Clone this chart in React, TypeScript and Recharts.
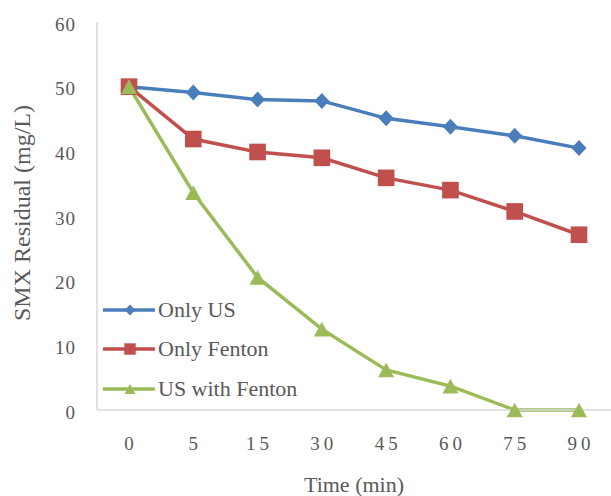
import React from 'react';
import { LineChart, Line, XAxis, YAxis, Legend } from 'recharts';

// Sampling times (min)
const times = ['0', '5', '15', '30', '45', '60', '75', '90'];
// SMX residual concentration (mg/L) per treatment
const onlyUS = [50, 49.1, 48.0, 47.8, 45.1, 43.8, 42.4, 40.5];
const onlyFenton = [50, 41.9, 39.9, 39.0, 35.9, 34.0, 30.7, 27.1];
const usWithFenton = [50, 33.6, 20.5, 12.5, 6.2, 3.7, 0, 0];
const yTicks = [0, 10, 20, 30, 40, 50, 60];

const data = times.map((t, i) => ({
  time: t,
  onlyUS: onlyUS[i],
  onlyFenton: onlyFenton[i],
  usWithFenton: usWithFenton[i],
}));

const FONT = '"Liberation Serif", "Times New Roman", serif';
const TEXT = '#595959';
const AXIS = '#D9D9D9';

const CHART_W = 611;
const CHART_H = 496;
const TOP = 22;
const X_AXIS_H = 86;
const PLOT_H = CHART_H - TOP - X_AXIS_H;

type Shape = 'diamond' | 'square' | 'triangle';

const series: { key: string; name: string; color: string; shape: Shape }[] = [
  { key: 'onlyUS', name: 'Only US', color: '#4A7EBB', shape: 'diamond' },
  { key: 'onlyFenton', name: 'Only Fenton', color: '#C0504D', shape: 'square' },
  { key: 'usWithFenton', name: 'US with Fenton', color: '#9BBB59', shape: 'triangle' },
];

function Marker({ cx, cy, shape, color, s }: { cx: number; cy: number; shape: Shape; color: string; s: number }) {
  if (shape === 'diamond') {
    const w = s * 0.47;
    const h = s * 0.5;
    return <polygon points={`${cx},${cy - h} ${cx + w},${cy} ${cx},${cy + h} ${cx - w},${cy}`} fill={color} />;
  }
  if (shape === 'square') {
    const h = s * 0.52;
    return <rect x={cx - h} y={cy - h} width={h * 2} height={h * 2} fill={color} />;
  }
  const w = s * 0.5;
  const h = s * 0.46;
  return <polygon points={`${cx},${cy - h} ${cx + w},${cy + h} ${cx - w},${cy + h}`} fill={color} />;
}

const XTick = (props: any) => {
  const { x, y, payload } = props;
  return (
    <text x={x + 2} y={y + 34} textAnchor="middle" fontFamily={FONT} fontSize={19} fill={TEXT} letterSpacing={4}>
      {payload.value}
    </text>
  );
};

const YTick = (props: any) => {
  const { x, y, payload } = props;
  return (
    <text x={x + 1} y={y + 8.5} textAnchor="end" fontFamily={FONT} fontSize={19} fill={TEXT} letterSpacing={1}>
      {payload.value}
    </text>
  );
};

const YTitle = () => {
  const cx = 22;
  const cy = TOP + PLOT_H / 2 - 3;
  return (
    <text
      x={cx}
      y={cy}
      transform={`rotate(-90, ${cx}, ${cy})`}
      textAnchor="middle"
      dominantBaseline="central"
      fontFamily={FONT}
      fontSize={24}
      fill={TEXT}
    >
      SMX Residual (mg/L)
    </text>
  );
};

const LegendContent = () => (
  <div style={{ fontFamily: FONT, fontSize: 22, color: TEXT }}>
    {series.map((s) => (
      <div key={s.key} style={{ display: 'flex', alignItems: 'center', height: 39.5 }}>
        <svg width={52} height={20} style={{ display: 'block' }}>
          <line x1={0} y1={10} x2={52} y2={10} stroke={s.color} strokeWidth={3.5} />
          <Marker cx={27} cy={10} shape={s.shape} color={s.color} s={11} />
        </svg>
        <span style={{ marginLeft: 3, whiteSpace: 'nowrap', lineHeight: '22px' }}>{s.name}</span>
      </div>
    ))}
  </div>
);

export default function App() {
  return (
    <div style={{ position: 'absolute', left: 0, top: 0 }}>
      <LineChart width={CHART_W} height={CHART_H} data={data} margin={{ top: TOP, right: 0, bottom: 0, left: 0 }}>
        <XAxis
          dataKey="time"
          height={X_AXIS_H}
          padding={{ left: 32, right: 32 }}
          tickLine={false}
          tickMargin={0}
          axisLine={{ stroke: AXIS, strokeWidth: 1.5 }}
          tick={<XTick />}
          interval={0}
          label={{
            value: 'Time (min)',
            position: 'insideBottom',
            offset: 4,
            fontFamily: FONT,
            fontSize: 22,
            fill: TEXT,
          }}
        />
        <YAxis
          width={97}
          domain={[0, 60]}
          ticks={yTicks}
          interval={0}
          tickLine={false}
          tickMargin={16}
          axisLine={{ stroke: AXIS, strokeWidth: 1.5 }}
          tick={<YTick />}
          label={{ content: () => <YTitle /> }}
        />
        <Legend
          layout="vertical"
          align="center"
          verticalAlign="middle"
          wrapperStyle={{ left: 103, top: 290, width: 220 }}
          content={<LegendContent />}
        />
        {series.map((s) => (
          <Line
            key={s.key}
            type="linear"
            dataKey={s.key}
            name={s.name}
            stroke={s.color}
            strokeWidth={3.5}
            isAnimationActive={false}
            dot={(p: any) => (
              <Marker key={`${s.key}-${p.index}`} cx={p.cx} cy={p.cy} shape={s.shape} color={s.color} s={16} />
            )}
            activeDot={false}
          />
        ))}
      </LineChart>
    </div>
  );
}
